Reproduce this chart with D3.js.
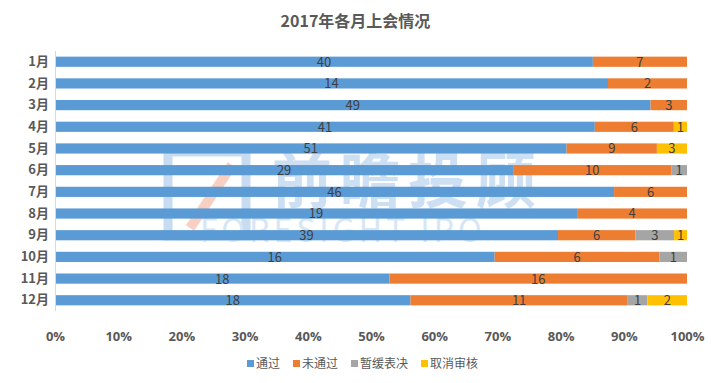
<!DOCTYPE html>
<html>
<head>
<meta charset="utf-8">
<script src="https://cdn.jsdelivr.net/npm/d3@7"></script>
<style>
  body { margin: 0; background: #fff; }
  svg { display: block; font-family: "Noto Sans CJK SC", "Open Sans", sans-serif; }
</style>
</head>
<body>
<script>
// Data
var months = ["1月","2月","3月","4月","5月","6月","7月","8月","9月","10月","11月","12月"];
var seriesNames = ["通过","未通过","暂缓表决","取消审核"];
var passed    = [40, 14, 49, 41, 51, 29, 46, 19, 39, 16, 18, 18];
var failed    = [ 7,  2,  3,  6,  9, 10,  6,  4,  6,  6, 16, 11];
var postponed = [ 0,  0,  0,  0,  0,  1,  0,  0,  3,  1,  0,  1];
var cancelled = [ 0,  0,  0,  1,  3,  0,  0,  0,  1,  0,  0,  2];
var xTicks = [0, 0.1, 0.2, 0.3, 0.4, 0.5, 0.6, 0.7, 0.8, 0.9, 1];

var colors = ["#5B9BD5", "#ED7D31", "#A5A5A5", "#FFC000"];

var canvas = {w: 711, h: 383},
    margin = {top: 51, right: 24, bottom: 72, left: 55},
    width = canvas.w - margin.left - margin.right,
    height = canvas.h - margin.top - margin.bottom;

var svg = d3.select("body").append("svg")
    .attr("width", canvas.w)
    .attr("height", canvas.h);

// Build rows for the stack
var rows = months.map(function(m, i) {
    return {month: m, "通过": passed[i], "未通过": failed[i], "暂缓表决": postponed[i], "取消审核": cancelled[i]};
});
var stacked = d3.stack().keys(seriesNames).offset(d3.stackOffsetExpand)(rows);

var x = d3.scaleLinear().domain([0, 1]).range([0, width]);
var y = d3.scaleBand().domain(months).range([0, height]).paddingInner(0.53).paddingOuter(0.26);

// watermark (behind the chart)
var wm = svg.append("g").attr("opacity", 0.55);
wm.append("rect").attr("x", 168).attr("y", 152).attr("width", 78).attr("height", 84)
    .attr("fill", "none").attr("stroke", "#9cc0e6").attr("stroke-width", 9);
wm.append("line").attr("x1", 190).attr("y1", 228).attr("x2", 232).attr("y2", 165)
    .attr("stroke", "#f4a88e").attr("stroke-width", 10);
wm.append("text").attr("x", 272).attr("y", 203).attr("font-size", 60).attr("font-weight", "bold")
    .attr("fill", "#a6c6e8").attr("letter-spacing", 8).text("前瞻投顾");
wm.append("text").attr("x", 200).attr("y", 242).attr("font-size", 32)
    .attr("fill", "#b8d2ee").attr("letter-spacing", 4).text("FORESIGHT  IPO");

// Title
svg.append("text")
    .attr("x", canvas.w / 2).attr("y", 27)
    .attr("text-anchor", "middle")
    .attr("font-size", 16).attr("font-weight", "bold")
    .attr("fill", "#595959")
    .text("2017年各月上会情况");

var g = svg.append("g").attr("transform", "translate(" + margin.left + "," + margin.top + ")");

// bars
var layer = g.selectAll(".layer").data(stacked).enter().append("g")
    .attr("class", "layer")
    .attr("fill", function(d, i) { return colors[i]; });

layer.selectAll("rect").data(function(d) { return d; }).enter().append("rect")
    .attr("x", function(d) { return x(d[0]); })
    .attr("y", function(d) { return y(d.data.month); })
    .attr("width", function(d) { return x(d[1]) - x(d[0]); })
    .attr("height", y.bandwidth());

// data labels
layer.selectAll("text").data(function(d) {
        return d.map(function(v) { return {v: v, key: d.key}; });
    }).enter().filter(function(d) { return d.v.data[d.key] > 0; })
    .append("text")
    .attr("x", function(d) { return (x(d.v[0]) + x(d.v[1])) / 2; })
    .attr("y", function(d) { return y(d.v.data.month) + y.bandwidth() / 2; })
    .attr("dy", "0.38em")
    .attr("text-anchor", "middle")
    .attr("font-size", 13)
    .attr("fill", "#404040")
    .text(function(d) { return d.v.data[d.key]; });

// y axis
var yAxis = g.append("g").call(d3.axisLeft(y).tickSize(0).tickPadding(6));
yAxis.select(".domain").attr("stroke", "#d9d9d9").attr("d", "M0.5,0V" + height);
yAxis.selectAll("text").attr("font-size", 13).attr("font-weight", "bold").attr("fill", "#595959")
    .attr("font-family", "\"Noto Sans CJK SC\", sans-serif");

// x axis
var xAxis = g.append("g").attr("transform", "translate(0," + (height + 18) + ")")
    .call(d3.axisBottom(x).tickValues(xTicks).tickFormat(d3.format(".0%")).tickSize(0));
xAxis.select(".domain").remove();
xAxis.selectAll("text").attr("font-size", 13).attr("font-weight", "bold").attr("fill", "#595959")
    .attr("font-family", "\"Open Sans\", sans-serif");

// legend
var legendWidths = [46, 58, 70, 70];
var legend = svg.append("g").attr("transform", "translate(247,364)");
var lx = 0;
seriesNames.forEach(function(name, i) {
    var item = legend.append("g").attr("transform", "translate(" + lx + ",0)");
    item.append("rect").attr("x", 0).attr("y", -4).attr("width", 7).attr("height", 7).attr("fill", colors[i]);
    item.append("text").attr("x", 9).attr("y", 0).attr("dy", "0.35em")
        .attr("font-size", 12).attr("fill", "#595959").text(name);
    lx += legendWidths[i];
});
</script>
</body>
</html>
